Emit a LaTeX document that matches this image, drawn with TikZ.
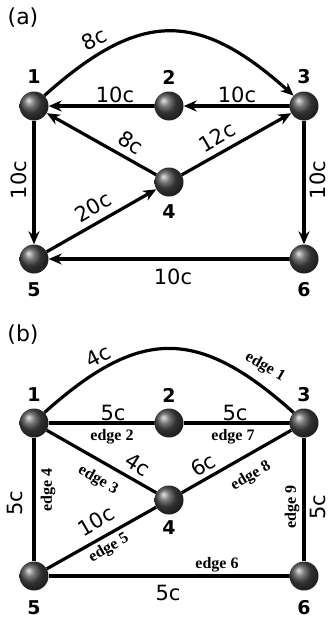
\documentclass[tikz,border=0pt]{standalone}
\usepackage{fontspec}
\setmainfont{DejaVu Sans}
\newfontfamily\edgefont{Liberation Serif}
\usetikzlibrary{arrows.meta}
\begin{document}
\begin{tikzpicture}[x=1pt,y=-1pt,
  ball/.style={circle,minimum size=29pt,inner sep=0pt,shading=ball,ball color=black!72},
  num/.style={font=\fontsize{19}{19}\selectfont\bfseries},
  wt/.style={font=\fontsize{21}{21}\selectfont,inner sep=0pt},
  el/.style={font=\edgefont\fontsize{16}{16}\selectfont\bfseries,inner sep=0pt},
  edgeline/.style={line width=3.2pt},
  arr/.style={edgeline,-{Stealth[length=13pt,width=11pt]}},
  panel/.style={font=\fontsize{22}{22}\selectfont}]
\useasboundingbox (0,0) rectangle (330,621);

% ---------- panel (a)
\node[panel] (pa) at (23,18) {(a)};
\node[ball] (a1) at (34,106) {};
\node[ball] (a2) at (169,106) {};
\node[ball] (a3) at (304,106) {};
\node[ball] (a4) at (169,182) {};
\node[ball] (a5) at (34,259) {};
\node[ball] (a6) at (304,259) {};
\node[num] (la1) at (34,77) {1};
\node[num] (la2) at (169,77) {2};
\node[num] (la3) at (304,77) {3};
\node[num] (la4) at (169,212) {4};
\node[num] (la5) at (34,290) {5};
\node[num] (la6) at (304,290) {6};

\draw[arr] (a1.45) .. controls (140,10) and (198,10) .. (a3.135);
\draw[arr] (a2) -- (a1);
\draw[arr] (a3) -- (a2);
\draw[arr] (a4) -- (a1);
\draw[arr] (a4) -- (a3);
\draw[arr] (a1) -- (a5);
\draw[arr] (a3) -- (a6);
\draw[arr] (a5) -- (a4);
\draw[arr] (a6) -- (a5);

\node[wt,rotate=27] (wa1) at (94,39) {8c};
\node[wt] (wa2) at (115,95) {10c};
\node[wt] (wa3) at (237,95) {10c};
\node[wt,rotate=-32] (wa4) at (131,143) {8c};
\node[wt,rotate=30] (wa5) at (217,137) {12c};
\node[wt,rotate=90] (wa6) at (19,180) {10c};
\node[wt,rotate=90] (wa7) at (318,180) {10c};
\node[wt,rotate=30] (wa8) at (93,207) {20c};
\node[wt] (wa9) at (173,277) {10c};

% ---------- panel (b)
\node[panel] (pb) at (23,335) {(b)};
\node[ball] (b1) at (34,423) {};
\node[ball] (b2) at (169,423) {};
\node[ball] (b3) at (304,423) {};
\node[ball] (b4) at (169,500) {};
\node[ball] (b5) at (34,576) {};
\node[ball] (b6) at (304,576) {};
\node[num] (lb1) at (34,395) {1};
\node[num] (lb2) at (169,395) {2};
\node[num] (lb3) at (304,395) {3};
\node[num] (lb4) at (169,528) {4};
\node[num] (lb5) at (34,608) {5};
\node[num] (lb6) at (304,608) {6};

\draw[edgeline] (b1.45) .. controls (140,327) and (198,327) .. (b3.135);
\draw[edgeline] (b1) -- (b2);
\draw[edgeline] (b2) -- (b3);
\draw[edgeline] (b1) -- (b4);
\draw[edgeline] (b4) -- (b3);
\draw[edgeline] (b1) -- (b5);
\draw[edgeline] (b3) -- (b6);
\draw[edgeline] (b5) -- (b4);
\draw[edgeline] (b5) -- (b6);

\node[wt,rotate=27] (wb1) at (98,356) {4c};
\node[el,rotate=-30] (eb1) at (265,367) {edge 1};
\node[wt] (wb2) at (113,413) {5c};
\node[wt] (wb3) at (235,413) {5c};
\node[el] (eb2) at (112,437) {edge 2};
\node[el] (eb7) at (233,437) {edge 7};
\node[wt,rotate=-32] (wb4) at (138,465) {4c};
\node[el,rotate=-30] (eb3) at (98,480) {edge 3};
\node[wt,rotate=30] (wb5) at (203,465) {6c};
\node[el,rotate=30] (eb8) at (251,476) {edge 8};
\node[wt,rotate=90] (wb6) at (15,503) {5c};
\node[el,rotate=90] (eb4) at (48,490) {edge 4};
\node[el,rotate=90] (eb9) at (292,507) {edge 9};
\node[wt,rotate=90] (wb7) at (318,507) {5c};
\node[wt,rotate=30] (wb8) at (96,521) {10c};
\node[el,rotate=30] (eb5) at (109,548) {edge 5};
\node[el] (eb6) at (217,565) {edge 6};
\node[wt] (wb9) at (168,593) {5c};
\end{tikzpicture}
\end{document}
